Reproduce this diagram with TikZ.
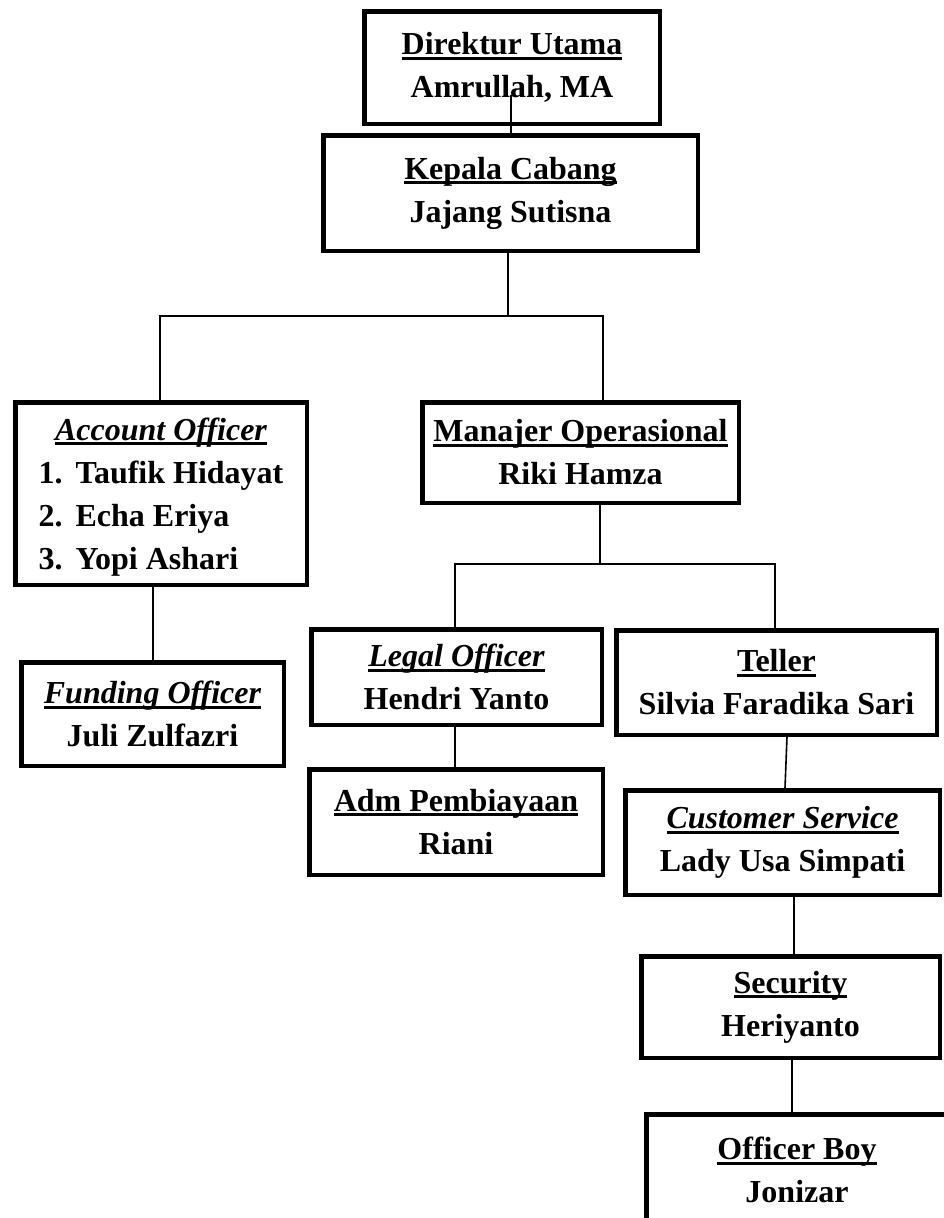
\documentclass[tikz,border=0pt]{standalone}
\usepackage{fontspec}
\setmainfont{Liberation Serif}
\newcommand\ulx[1]{\leavevmode\setbox0=\hbox{#1}\rlap{\rule[-5pt]{\wd0}{3pt}}\box0}
\tikzset{
  txt/.style={align=center, inner sep=0pt, font=\fontsize{32}{43}\selectfont\bfseries},
  box/.style={txt, draw, line width=4.5pt, rectangle, fill=white},
  link/.style={line width=1.6pt}
}
\begin{document}
\begin{tikzpicture}[x=1pt,y=-1pt]
\clip (0,0) rectangle (944,1218);
\fill[white] (0,0) rectangle (944,1218);

\node[box, minimum width=295.5pt, minimum height=112.5pt] (dir) at (512,67.5)
  {\ulx{Direktur Utama}\\Amrullah, MA};
\node[box, minimum width=374.5pt, minimum height=115.5pt] (kc) at (510.5,193)
  {\ulx{Kepala Cabang}\\Jajang Sutisna};
\node[box, minimum width=291.5pt, minimum height=182.5pt] (ao) at (161,493.5) {};
\node[txt] (aotext) at (161,500)
  {\ulx{\itshape Account Officer}\\
   \begin{tabular}[t]{@{}r@{\hspace{13pt}}l@{}}1.&Taufik Hidayat\\2.&Echa Eriya\\3.&Yopi Ashari\end{tabular}};
\node[box, minimum width=262.5pt, minimum height=103.5pt] (fo) at (152.5,714)
  {\ulx{\itshape Funding Officer}\\Juli Zulfazri};
\node[box, minimum width=316.5pt, minimum height=100.5pt] (mo) at (580.5,452.5)
  {\ulx{Manajer Operasional}\\Riki Hamza};
\node[box, minimum width=290.5pt, minimum height=95.5pt] (lo) at (456.5,677)
  {\ulx{\itshape Legal Officer}\\Hendri Yanto};
\node[box, minimum width=320.5pt, minimum height=104.5pt] (te) at (776.5,682.5)
  {\ulx{Teller}\\Silvia Faradika Sari};
\node[box, minimum width=293.5pt, minimum height=105.5pt] (adm) at (456,822)
  {\ulx{Adm Pembiayaan}\\Riani};
\node[box, minimum width=314.5pt, minimum height=104.5pt] (cs) at (782.5,842.5)
  {\ulx{\itshape Customer Service}\\Lady Usa Simpati};
\node[box, minimum width=298.5pt, minimum height=101.5pt] (sec) at (790.5,1007)
  {\ulx{Security}\\Heriyanto};
\node[box, minimum width=301.5pt, minimum height=111.5pt] (ob) at (797,1170)
  {\ulx{Officer Boy}\\Jonizar};

% connectors
\coordinate (d1) at (511,95);
\draw[link] (d1) -- (d1 |- kc.north);
\coordinate (j0) at (508,316);
\draw[link] (kc.south -| j0) -- (j0);
\coordinate (jl) at (160,316);
\coordinate (jr) at (603,316);
\draw[link] (ao.north -| jl) -- (jl) -- (jr) -- (mo.north -| jr);
\coordinate (a1) at (153,0);
\draw[link] (ao.south -| a1) -- (fo.north -| a1);
\coordinate (m0) at (600,564);
\draw[link] (mo.south -| m0) -- (m0);
\coordinate (ml) at (455,564);
\coordinate (mr) at (775,564);
\draw[link] (lo.north -| ml) -- (ml) -- (mr) -- (te.north -| mr);
\coordinate (l1) at (455,0);
\draw[link] (lo.south -| l1) -- (adm.north -| l1);
\coordinate (t1) at (787,0);
\coordinate (c1) at (785,0);
\draw[link] (te.south -| t1) -- (cs.north -| c1);
\coordinate (s1) at (794,0);
\draw[link] (cs.south -| s1) -- (sec.north -| s1);
\coordinate (o1) at (792,0);
\draw[link] (sec.south -| o1) -- (ob.north -| o1);
\end{tikzpicture}
\end{document}
